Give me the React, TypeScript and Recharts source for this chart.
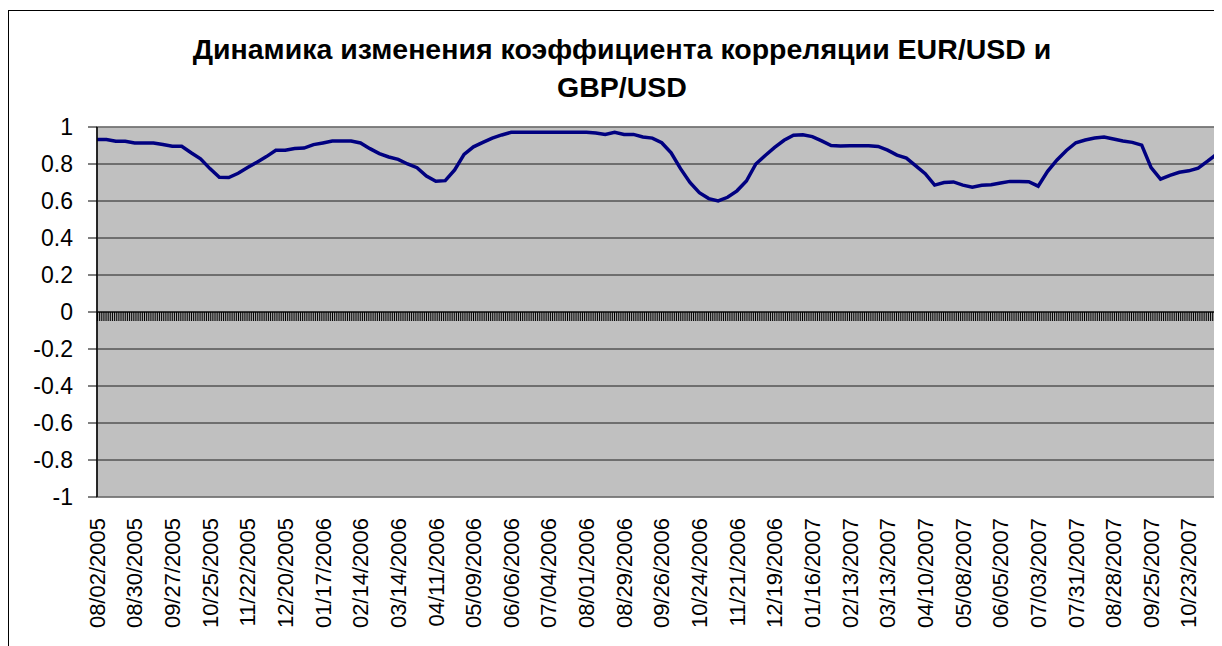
import React from 'react';
import { LineChart, Line, XAxis, YAxis, CartesianGrid, ReferenceLine, ReferenceArea } from 'recharts';

// weekly readings (every Tuesday) of the correlation EUR/USD vs GBP/USD
const correlation = [
  0.932, 0.932, 0.923, 0.923, 0.914, 0.914, 0.914, 0.905, 0.896, 0.896,
  0.861, 0.828, 0.775, 0.728, 0.727, 0.75, 0.781, 0.81, 0.84, 0.874,
  0.874, 0.884, 0.886, 0.905, 0.914, 0.924, 0.924, 0.924, 0.914, 0.883,
  0.856, 0.838, 0.825, 0.8, 0.78, 0.735, 0.707, 0.71, 0.768, 0.852,
  0.893, 0.917, 0.94, 0.957, 0.971, 0.971, 0.971, 0.971, 0.971, 0.971,
  0.971, 0.971, 0.971, 0.968, 0.96, 0.971, 0.96, 0.96, 0.946, 0.94,
  0.915, 0.86, 0.775, 0.7, 0.645, 0.613, 0.6, 0.62, 0.655, 0.708,
  0.8, 0.846, 0.89, 0.928, 0.955, 0.958, 0.948, 0.925, 0.9, 0.897,
  0.898, 0.898, 0.898, 0.895, 0.875, 0.848, 0.832, 0.79, 0.748, 0.686,
  0.7, 0.703, 0.686, 0.675, 0.685, 0.688, 0.697, 0.706, 0.706, 0.704,
  0.68, 0.76, 0.822, 0.873, 0.915, 0.93, 0.94, 0.946, 0.935, 0.924,
  0.917, 0.902, 0.78, 0.718, 0.739, 0.755, 0.763, 0.778, 0.815, 0.855,
];

const tickLabels = [
  '08/02/2005', '08/30/2005', '09/27/2005', '10/25/2005', '11/22/2005', '12/20/2005',
  '01/17/2006', '02/14/2006', '03/14/2006', '04/11/2006', '05/09/2006', '06/06/2006',
  '07/04/2006', '08/01/2006', '08/29/2006', '09/26/2006', '10/24/2006', '11/21/2006',
  '12/19/2006', '01/16/2007', '02/13/2007', '03/13/2007', '04/10/2007', '05/08/2007',
  '06/05/2007', '07/03/2007', '07/31/2007', '08/28/2007', '09/25/2007', '10/23/2007',
];

const yTicks = [1, 0.8, 0.6, 0.4, 0.2, 0, -0.2, -0.4, -0.6, -0.8, -1];

const pad = (n: number) => String(n).padStart(2, '0');
const start = Date.UTC(2005, 7, 2);
const weekDates = correlation.map((_, i) => {
  const d = new Date(start + i * 7 * 86400000);
  return `${pad(d.getUTCMonth() + 1)}/${pad(d.getUTCDate())}/${d.getUTCFullYear()}`;
});

const data = correlation.map((v, i) => ({ date: weekDates[i], value: v }));

const FONT = 'Arial, "Liberation Sans", sans-serif';

const DateTick = (props: any) => {
  const { x, y, payload } = props;
  return (
    <g transform={`translate(${x},${y + 21})`}>
      <text x={0} y={0} dy="0.35em" textAnchor="end" transform="rotate(-90)" fill="#000" fontSize={22} fontFamily={FONT}>
        {payload.value}
      </text>
    </g>
  );
};

const ZeroAxis = (p: any) => (
  <g>
    <line x1={p.x1} y1={p.y1} x2={p.x2} y2={p.y2} stroke="#000" strokeWidth={1} />
    <line x1={p.x1} y1={p.y1 + 4.5} x2={p.x2} y2={p.y2 + 4.5} stroke="#000" strokeWidth={9} strokeDasharray="1 0.88" />
  </g>
);

const titleStyle: React.CSSProperties = {
  position: 'absolute', left: 0, width: 1228, textAlign: 'center',
  font: `bold 28.5px ${FONT}`, lineHeight: '28.5px', whiteSpace: 'nowrap',
};

export default function App() {
  return (
    <div style={{ position: 'relative', width: 1214, height: 638, overflow: 'hidden' }}>
      <div style={{ position: 'absolute', left: 0, top: 2, width: 1300, height: 700, border: '1px solid #000' }} />
      <div style={{ ...titleStyle, top: 27 }}>Динамика изменения коэффициента корреляции EUR/USD и</div>
      <div style={{ ...titleStyle, top: 65 }}>GBP/USD</div>
      <div style={{ position: 'absolute', left: 0, top: 0 }}>
        <LineChart width={1214} height={638} data={data} margin={{ top: 119, right: 5, left: 29, bottom: 9 }}>
          <CartesianGrid fill="#C0C0C0" vertical={false} stroke="#000" strokeOpacity={0.85} />
          <XAxis
            dataKey="date"
            ticks={tickLabels}
            interval={0}
            axisLine={false}
            tickLine={false}
            tickSize={0}
            tickMargin={0}
            height={140}
            tick={<DateTick />}
          />
          <YAxis
            domain={[-1, 1]}
            ticks={yTicks}
            width={60}
            tickSize={9}
            tickMargin={15}
            axisLine={{ stroke: '#000', strokeWidth: 1.5 }}
            tickLine={{ stroke: '#000' }}
            tick={{ fill: '#000', fontSize: 23, fontFamily: FONT }}
          />
          <ReferenceArea x1={weekDates[0]} x2={weekDates[weekDates.length - 1]} y1={-1} y2={1} fill="none" stroke="#808080" strokeWidth={1.5} />
          <ReferenceLine y={0} shape={ZeroAxis} />
          <Line type="linear" dataKey="value" stroke="#000080" strokeWidth={3.5} dot={false} isAnimationActive={false} />
        </LineChart>
      </div>
    </div>
  );
}
